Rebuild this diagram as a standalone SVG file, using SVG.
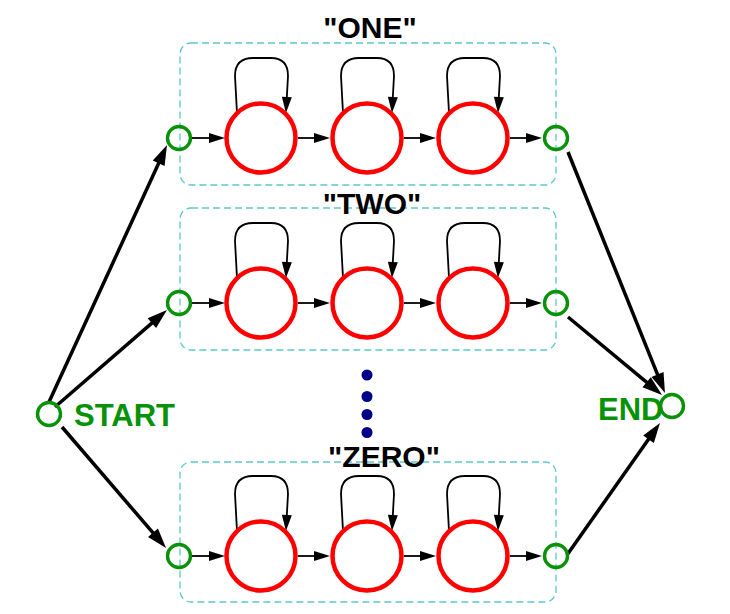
<svg xmlns="http://www.w3.org/2000/svg" width="730" height="614" viewBox="0 0 730 614">
<style>
.box{fill:none;stroke:#5cc8cc;stroke-width:1.3;stroke-dasharray:7,4}
.lbl{font-family:"Liberation Sans",Arial,sans-serif;font-weight:bold;font-size:30px;fill:#000;text-anchor:middle}
.gl{font-family:"Liberation Sans",Arial,sans-serif;font-weight:bold;font-size:31px;fill:#079207}
.st{fill:none;stroke:#079207;stroke-width:3.4}
.hs{fill:#fff;stroke:#f00;stroke-width:4.5}
.big{fill:none;stroke:#000;stroke-width:3.5}
.sm{fill:none;stroke:#000;stroke-width:1.8}
.dot{fill:#00008b}
</style>
<defs>
<marker id="ab" markerUnits="userSpaceOnUse" markerWidth="20" markerHeight="13" refX="8" refY="6.5" orient="auto" overflow="visible"><path d="M0,0 L20,6.5 L0,13 z" fill="#000"/></marker>
<marker id="as" markerUnits="userSpaceOnUse" markerWidth="16" markerHeight="10" refX="8" refY="5" orient="auto" overflow="visible"><path d="M0,0 L16,5 L0,10 z" fill="#000"/></marker>
</defs>
<rect fill="#fff" x="0" y="0" width="730" height="614"/>
<g id="group-one">
<rect class="box" x="180" y="43" width="376" height="142" rx="11"/>
<text class="lbl" x="370" y="38">"ONE"</text>
</g>
<g id="group-two">
<rect class="box" x="180" y="208" width="376" height="142" rx="11"/>
<text class="lbl" x="372" y="214">"TWO"</text>
</g>
<g id="group-zero">
<rect class="box" x="180" y="462" width="376" height="140" rx="11"/>
<text class="lbl" x="384" y="467">"ZERO"</text>
</g>
<g id="connectors">
<line class="big" x1="49" y1="402" x2="162" y2="155.9" marker-end="url(#ab)"/>
<line class="big" x1="55" y1="407" x2="157.9" y2="317.9" marker-end="url(#ab)"/>
<line class="big" x1="62" y1="427" x2="158.2" y2="538.9" marker-end="url(#ab)"/>
<line class="big" x1="568" y1="152" x2="660.5" y2="381.9" marker-end="url(#ab)"/>
<line class="big" x1="568" y1="317" x2="652.8" y2="387.3" marker-end="url(#ab)"/>
<line class="big" x1="567" y1="555" x2="653.1" y2="432.8" marker-end="url(#ab)"/>
<g id="row1-arrows">
<line class="sm" x1="192" y1="138" x2="217" y2="138" marker-end="url(#as)"/>
<line class="sm" x1="298" y1="138" x2="322" y2="138" marker-end="url(#as)"/>
<line class="sm" x1="404" y1="138" x2="428" y2="138" marker-end="url(#as)"/>
<line class="sm" x1="510" y1="138" x2="534" y2="138" marker-end="url(#as)"/>
<path class="sm" d="M237,113 L235,76 Q235,58 253,58 L271,58 Q288,58 288,76 L286.4,105" marker-end="url(#as)"/>
<path class="sm" d="M343,113 L341,76 Q341,58 359,58 L377,58 Q394,58 394,76 L392.4,105" marker-end="url(#as)"/>
<path class="sm" d="M449,113 L447,76 Q447,58 465,58 L483,58 Q500,58 500,76 L498.4,105" marker-end="url(#as)"/>
</g>
<g id="row2-arrows">
<line class="sm" x1="192" y1="303" x2="217" y2="303" marker-end="url(#as)"/>
<line class="sm" x1="298" y1="303" x2="322" y2="303" marker-end="url(#as)"/>
<line class="sm" x1="404" y1="303" x2="428" y2="303" marker-end="url(#as)"/>
<line class="sm" x1="510" y1="303" x2="534" y2="303" marker-end="url(#as)"/>
<path class="sm" d="M237,278 L235,241 Q235,223 253,223 L271,223 Q288,223 288,241 L286.4,270" marker-end="url(#as)"/>
<path class="sm" d="M343,278 L341,241 Q341,223 359,223 L377,223 Q394,223 394,241 L392.4,270" marker-end="url(#as)"/>
<path class="sm" d="M449,278 L447,241 Q447,223 465,223 L483,223 Q500,223 500,241 L498.4,270" marker-end="url(#as)"/>
</g>
<g id="row3-arrows">
<line class="sm" x1="192" y1="556" x2="217" y2="556" marker-end="url(#as)"/>
<line class="sm" x1="298" y1="556" x2="322" y2="556" marker-end="url(#as)"/>
<line class="sm" x1="404" y1="556" x2="428" y2="556" marker-end="url(#as)"/>
<line class="sm" x1="510" y1="556" x2="534" y2="556" marker-end="url(#as)"/>
<path class="sm" d="M237,531 L235,494 Q235,476 253,476 L271,476 Q288,476 288,494 L286.4,523" marker-end="url(#as)"/>
<path class="sm" d="M343,531 L341,494 Q341,476 359,476 L377,476 Q394,476 394,494 L392.4,523" marker-end="url(#as)"/>
<path class="sm" d="M449,531 L447,494 Q447,476 465,476 L483,476 Q500,476 500,494 L498.4,523" marker-end="url(#as)"/>
</g>
</g>
<g id="start"><circle class="st" cx="49" cy="414" r="11.5"/><text class="gl" x="74" y="426">START</text></g>
<g id="end"><text class="gl" x="598" y="420">END</text><circle class="st" cx="672" cy="406" r="11.5"/></g>
<g id="one-in"><circle class="st" cx="179" cy="138" r="11.5"/></g>
<g id="one-s1"><circle class="hs" cx="261" cy="138" r="34.5"/></g>
<g id="one-s2"><circle class="hs" cx="367" cy="138" r="34.5"/></g>
<g id="one-s3"><circle class="hs" cx="473" cy="138" r="34.5"/></g>
<g id="one-out"><circle class="st" cx="556" cy="138" r="11.5"/></g>
<g id="two-in"><circle class="st" cx="179" cy="303" r="11.5"/></g>
<g id="two-s1"><circle class="hs" cx="261" cy="303" r="34.5"/></g>
<g id="two-s2"><circle class="hs" cx="367" cy="303" r="34.5"/></g>
<g id="two-s3"><circle class="hs" cx="473" cy="303" r="34.5"/></g>
<g id="two-out"><circle class="st" cx="556" cy="303" r="11.5"/></g>
<g id="zero-in"><circle class="st" cx="179" cy="556" r="11.5"/></g>
<g id="zero-s1"><circle class="hs" cx="261" cy="556" r="34.5"/></g>
<g id="zero-s2"><circle class="hs" cx="367" cy="556" r="34.5"/></g>
<g id="zero-s3"><circle class="hs" cx="473" cy="556" r="34.5"/></g>
<g id="zero-out"><circle class="st" cx="556" cy="556" r="11.5"/></g>
<g id="ellipsis">
<circle class="dot" cx="367" cy="375" r="5.5"/>
<circle class="dot" cx="367" cy="396.5" r="5.5"/>
<circle class="dot" cx="367" cy="414.5" r="5.5"/>
<circle class="dot" cx="367" cy="432.5" r="5.5"/>
</g>
</svg>
